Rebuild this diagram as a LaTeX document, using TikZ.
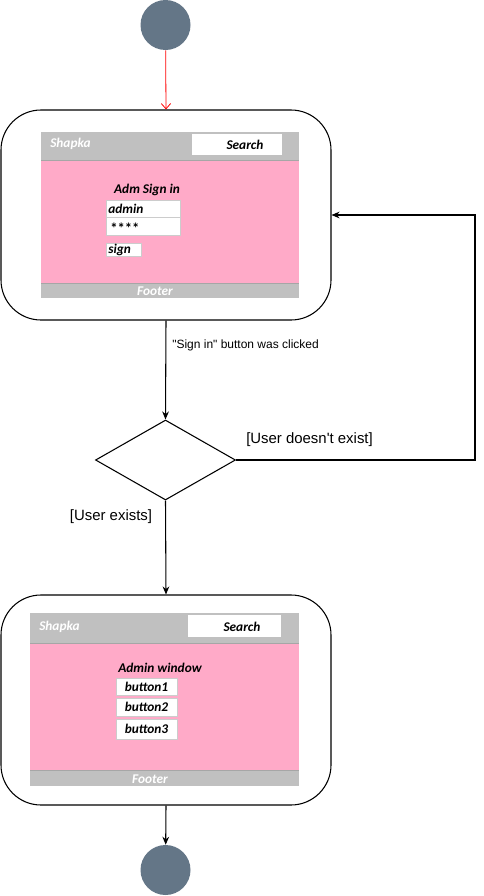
\documentclass[tikz,border=0pt]{standalone}
\usepackage{fontspec}
\setmainfont{Liberation Sans}[Ligatures=TeXOff]
\newfontfamily\wf{Carlito}
\usetikzlibrary{shapes.geometric,arrows.meta}
\definecolor{startc}{HTML}{647687}
\definecolor{pinkc}{HTML}{FFAAC8}
\definecolor{grayc}{HTML}{C0C0C0}
\begin{document}
\begin{tikzpicture}[x=0.75pt,y=-0.75pt,
  state/.style={circle,fill=startc,draw=none,minimum size=37.5pt,inner sep=0},
  screen/.style={draw=black,rounded corners=30pt,minimum width=247.5pt,minimum height=157.5pt,inner sep=0,line width=0.8pt},
  decision/.style={diamond,draw=black,minimum width=105pt,minimum height=60pt,inner sep=0,line width=0.8pt},
  flow/.style={-{Stealth[length=6pt,width=5pt]},line width=0.8pt},
  wtext/.style={font=\wf\bfseries\itshape\fontsize{10}{12}\selectfont,inner sep=0},
  field/.style={fill=white,draw=black!20,line width=0.5pt},
  lbl/.style={font=\fontsize{11.2}{13}\selectfont,inner sep=0},
  slbl/.style={font=\fontsize{9}{11}\selectfont,inner sep=0,anchor=west}]
\useasboundingbox (0,0) rectangle (484,896);
\fill[white] (0,0) rectangle (484,896);

% nodes
\node[state] (s) at (165.5,25) {};
\node[screen] (b1) at (166,215) {};
\node[decision] (d) at (165.5,460) {};
\node[screen] (b2) at (166,700) {};
\node[state] (e) at (165.5,870) {};

% wireframe 1
\fill[grayc] (41,132) rectangle (299,160);
\fill[pinkc] (41,160) rectangle (299,283);
\fill[grayc] (41,283) rectangle (299,298);
\draw[black!35,line width=0.5pt] (41,160) -- (299,160);
\draw[black!35,line width=0.5pt] (41,283) -- (299,283);
\fill[white] (192,134) rectangle (282,155);
\node[wtext,text=white,anchor=west] (sh1) at (50,144) {Shapka};
\node[wtext] (se1) at (245,144.5) {Search};
\node[wtext] (t1) at (147,190) {Adm Sign in};
\draw[field] (106,200) rectangle (180,217);
\draw[field] (106,217) rectangle (180,235);
\draw[field] (106,243) rectangle (141,256);
\node[wtext,anchor=west] (f1) at (108,209) {admin};
\node[wtext,anchor=west,font=\wf\bfseries\fontsize{11}{12}\selectfont] (f2) at (110,228.5) {****};
\node[wtext,anchor=west] (f3) at (108,249.5) {sign};
\node[wtext,text=white] (ft1) at (155,291) {Footer};

% wireframe 2
\fill[grayc] (30,613) rectangle (299,643);
\fill[pinkc] (30,643) rectangle (299,770);
\fill[grayc] (30,770) rectangle (299,786);
\draw[black!35,line width=0.5pt] (30,643) -- (299,643);
\draw[black!35,line width=0.5pt] (30,770) -- (299,770);
\fill[white] (188,615) rectangle (281,637);
\node[wtext,text=white,anchor=west] (sh2) at (39,627) {Shapka};
\node[wtext] (se2) at (242,627) {Search};
\node[wtext] (t2) at (160,668) {Admin window};
\draw[field] (116,678) rectangle (177,695);
\draw[field] (116,698) rectangle (177,716);
\draw[field] (116,719) rectangle (177,739);
\node[wtext] (bt1) at (146.5,687) {button1};
\node[wtext] (bt2) at (146.5,707) {button2};
\node[wtext] (bt3) at (146.5,729) {button3};
\node[wtext,text=white] (ft2) at (150,779) {Footer};

% connectors
\draw[red,-{Straight Barb[length=4pt,width=7pt]},line width=0.6pt] (s) -- (b1.north);
\draw[flow] (b1.south) -- (d.north);
\coordinate (rc) at (475,460);
\draw[flow] (d.east) -- (rc) |- (b1.east);
\draw[flow] (d.south) -- (b2.north);
\draw[flow] (b2.south) -- (e);

% labels
\node[slbl] (l1) at (172,345) {"Sign in" button was clicked};
\node[lbl,anchor=west] (l2) at (246,440) {[User doesn't exist]};
\node[lbl] (l3) at (111,517) {[User exists]};
\end{tikzpicture}
\end{document}
